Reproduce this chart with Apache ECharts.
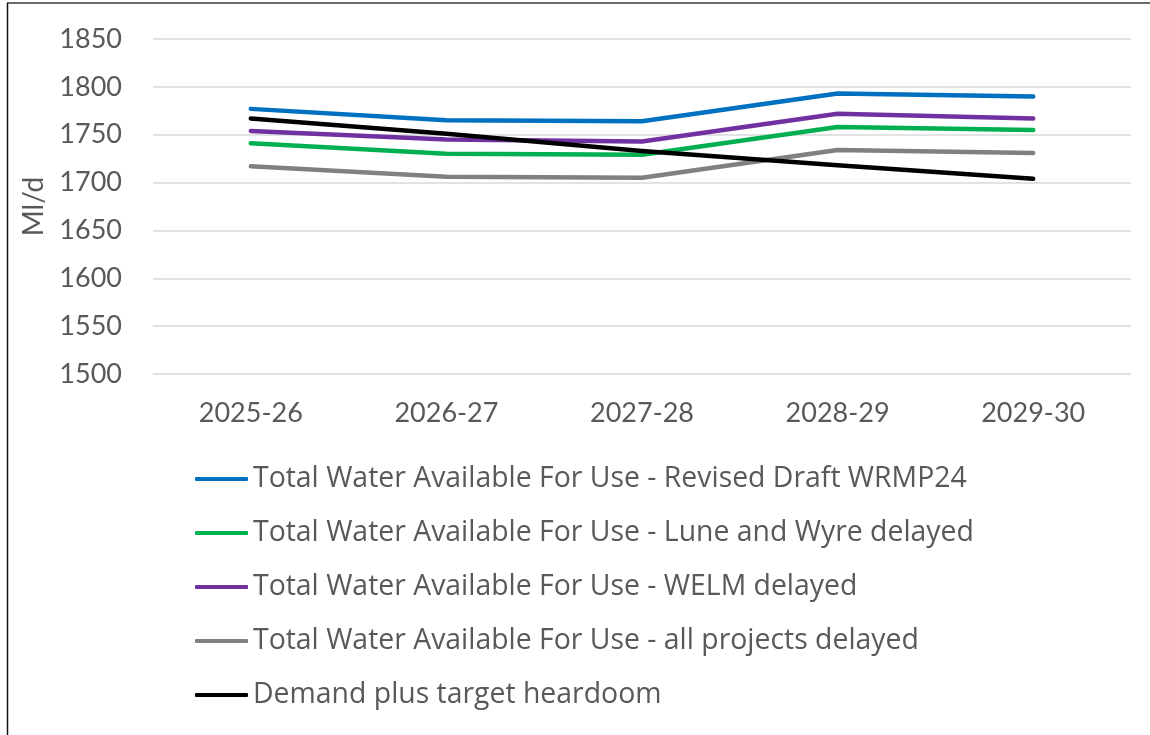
<!DOCTYPE html>
<html>
<head>
<meta charset="utf-8">
<script src="https://cdn.jsdelivr.net/npm/echarts@6/dist/echarts.min.js"></script>
<style>
html,body{margin:0;padding:0;background:#fff;}
#chart{width:1150px;height:735px;}
</style>
</head>
<body>
<div id="chart"></div>
<script>
const categories = ['2025-26', '2026-27', '2027-28', '2028-29', '2029-30'];
const seriesNames = [
  'Total Water Available For Use - Revised Draft WRMP24',
  'Total Water Available For Use - Lune and Wyre delayed',
  'Total Water Available For Use - WELM delayed',
  'Total Water Available For Use - all projects delayed',
  'Demand plus target heardoom'
];
const revisedDraft = [1777, 1765, 1764, 1793, 1790];
const luneWyreDelayed = [1741, 1730, 1729, 1758, 1755];
const welmDelayed = [1754, 1745, 1743, 1772, 1767];
const allDelayed = [1717, 1706, 1705, 1734, 1731];
const demandHeadroom = [1767, 1751, 1733, 1718, 1704];
const yTicks = [1500, 1550, 1600, 1650, 1700, 1750, 1800, 1850];

const colors = ['#0070C0', '#00B050', '#7030A0', '#808080', '#000000'];
const dataSets = [revisedDraft, luneWyreDelayed, welmDelayed, allDelayed, demandHeadroom];
const FONT = 'Lato';
const LFONT = 'Open Sans';
const TXT = '#595959';

const chart = echarts.init(document.getElementById('chart'));
chart.setOption({
  backgroundColor: '#fff',
  animation: false,
  textStyle: { fontFamily: FONT },
  grid: { left: 153, right: 19, top: 39, bottom: 361, containLabel: false },
  xAxis: {
    type: 'category',
    data: categories,
    boundaryGap: true,
    axisLine: { show: false },
    axisTick: { show: false },
    axisLabel: { color: TXT, fontFamily: FONT, fontSize: 27, margin: 26 }
  },
  yAxis: {
    type: 'value',
    min: yTicks[0],
    max: yTicks[yTicks.length - 1],
    interval: 50,
    name: 'Ml/d',
    nameLocation: 'middle',
    nameGap: 95,
    nameTextStyle: { color: TXT, fontFamily: FONT, fontSize: 28 },
    axisLine: { show: false },
    axisTick: { show: false },
    axisLabel: { color: TXT, fontFamily: FONT, fontSize: 27, margin: 31, formatter: v => String(v) },
    splitLine: { lineStyle: { color: '#D9D9D9', width: 1.5 } }
  },
  legend: {
    orient: 'vertical',
    left: 190,
    top: 459,
    icon: 'roundRect',
    itemWidth: 53,
    itemHeight: 4,
    itemGap: 24,
    data: seriesNames,
    textStyle: { color: TXT, fontFamily: LFONT, fontSize: 28.4, lineHeight: 30 }
  },
  series: seriesNames.map((n, i) => ({
    name: n,
    type: 'line',
    data: dataSets[i],
    showSymbol: false,
    symbol: 'none',
    color: colors[i],
    lineStyle: { color: colors[i], width: 4.5, cap: 'round', join: 'round' },
    z: i === 4 ? 3 : 2
  })),
  graphic: [
    { type: 'line', shape: { x1: 7, y1: 3, x2: 1150, y2: 3 }, style: { stroke: '#6b6b6b', lineWidth: 2 } },
    { type: 'line', shape: { x1: 7.5, y1: 3, x2: 7.5, y2: 735 }, style: { stroke: '#111', lineWidth: 1.5 } }
  ]
});
</script>
</body>
</html>
